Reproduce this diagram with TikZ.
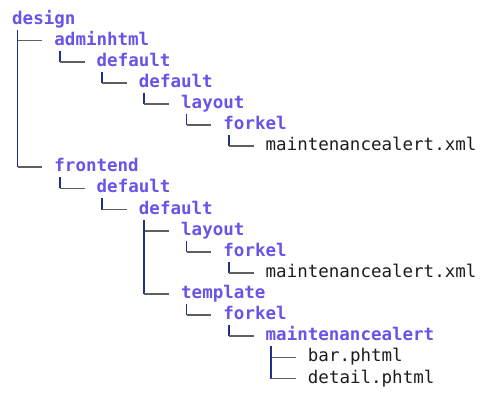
\documentclass[tikz,border=0pt]{standalone}
\usepackage{fontspec}
\setmonofont{DejaVu Sans Mono}
\usepackage{tikz}
\definecolor{dircol}{RGB}{104,84,232}
\definecolor{filecol}{RGB}{28,28,28}
\definecolor{stemcol}{RGB}{28,48,140}
\definecolor{tickcol}{RGB}{95,95,95}
\tikzset{
    entry/.style={anchor=base west, inner sep=0pt, font=\ttfamily\fontsize{17.5}{21}\selectfont},
    dir/.style={entry, text=dircol, font=\ttfamily\bfseries\fontsize{17.5}{21}\selectfont},
    file/.style={entry, text=filecol},
    stem/.style={draw=stemcol, line width=1.6pt},
    tick/.style={draw=tickcol, line width=1.7pt}
}
% horizontal branch into a child, vertical run from parent down to its last child
\newcommand{\branch}[1]{\draw[tick] ([shift={(-36.75,4.5)}]#1.base west) -- ([shift={(-12,4.5)}]#1.base west);}
\newcommand{\lastchild}[2]{%
    \draw[stem] ([shift={(5.5,-5.5)}]#1.base west) -- ([shift={(-36.75,4.5)}]#2.base west);
    \branch{#2}}

\begin{document}
\begin{tikzpicture}[x=1pt,y=1pt]
    \useasboundingbox (0,0) rectangle (480,-392);
    \node[dir] (design) at (12,-24) {design};
    \node[dir] (admin) at (54.25,-45.12) {adminhtml};
    \node[dir] (admdef) at (96.5,-66.24) {default};
    \node[dir] (admtheme) at (138.75,-87.36) {default};
    \node[dir] (admlayout) at (181,-108.48) {layout};
    \node[dir] (admforkel) at (223.25,-129.6) {forkel};
    \node[file] (admxml) at (265.5,-150.72) {maintenancealert.xml};
    \node[dir] (front) at (54.25,-171.84) {frontend};
    \node[dir] (frontdef) at (96.5,-192.96) {default};
    \node[dir] (fronttheme) at (138.75,-214.08) {default};
    \node[dir] (frontlayout) at (181,-235.2) {layout};
    \node[dir] (frontforkel) at (223.25,-256.32) {forkel};
    \node[file] (frontxml) at (265.5,-277.44) {maintenancealert.xml};
    \node[dir] (template) at (181,-298.56) {template};
    \node[dir] (tplforkel) at (223.25,-319.68) {forkel};
    \node[dir] (tplalert) at (265.5,-340.8) {maintenancealert};
    \node[file] (bar) at (307.75,-361.92) {bar.phtml};
    \node[file] (detail) at (307.75,-383.04) {detail.phtml};

    \branch{admin}
    \lastchild{design}{front}
    \lastchild{admin}{admdef}
    \lastchild{admdef}{admtheme}
    \lastchild{admtheme}{admlayout}
    \lastchild{admlayout}{admforkel}
    \lastchild{admforkel}{admxml}
    \lastchild{front}{frontdef}
    \lastchild{frontdef}{fronttheme}
    \branch{frontlayout}
    \lastchild{fronttheme}{template}
    \lastchild{frontlayout}{frontforkel}
    \lastchild{frontforkel}{frontxml}
    \lastchild{template}{tplforkel}
    \lastchild{tplforkel}{tplalert}
    \branch{bar}
    \lastchild{tplalert}{detail}
\end{tikzpicture}
\end{document}
